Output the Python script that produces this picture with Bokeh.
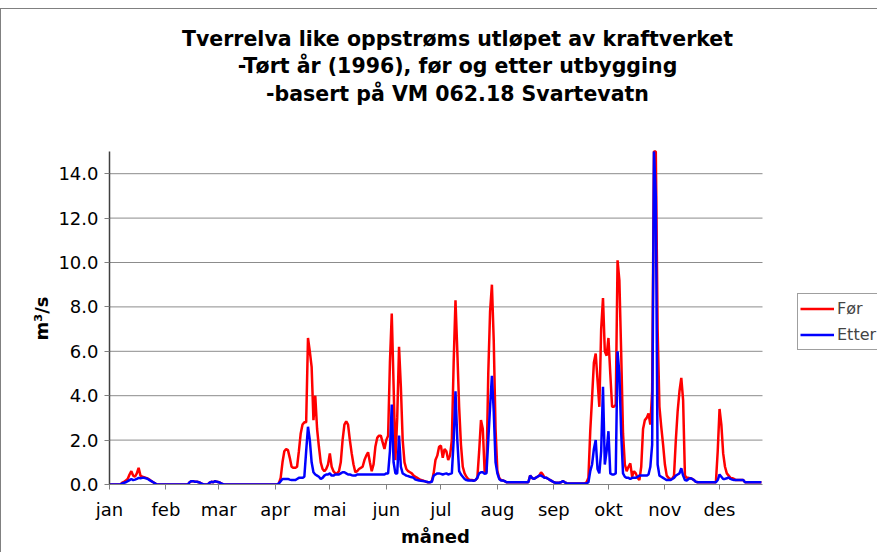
from bokeh.plotting import figure
from bokeh.models import (Range1d, FixedTicker, PrintfTickFormatter, Label, Legend, LegendItem, Title)
from bokeh.embed import file_html
from bokeh.resources import INLINE

# ---- data (daily flow, m3/s, day 0 = 1 Jan 1996) ----
title_lines = ["Tverrelva like oppstrøms utløpet av kraftverket",
               "-Tørt år (1996), før og etter utbygging",
               "-basert på VM 062.18 Svartevatn"]
x_label = "måned"
y_label = "m³/s"
month_names = ["jan", "feb", "mar", "apr", "mai", "jun", "jul", "aug", "sep", "okt", "nov", "des"]
month_start_days = [0, 31, 60, 91, 121, 152, 182, 213, 244, 274, 305, 335]
y_ticks = [0, 2, 4, 6, 8, 10, 12, 14]
y_axis_max = 15
x_axis_max = 358.6

foer = [
    0, 0, 0, 0, 0, 0, 0, 0.08, 0.12, 0.18,            # 0
    0.25, 0.45, 0.6, 0.4, 0.35, 0.5, 0.75, 0.4, 0.35, 0.33,  # 10
    0.3, 0.27, 0.22, 0.15, 0.1, 0.05, 0, 0, 0, 0,     # 20
    0, 0, 0, 0, 0, 0, 0, 0, 0, 0,                     # 30
    0, 0, 0, 0, 0.1, 0.15, 0.15, 0.12, 0.12, 0.1,     # 40
    0.07, 0.02, 0, 0, 0, 0.08, 0.12, 0.1, 0.15, 0.12, # 50
    0.1, 0.07, 0.02, 0, 0, 0, 0, 0, 0, 0,             # 60
    0, 0, 0, 0, 0, 0, 0, 0, 0, 0,                     # 70
    0, 0, 0, 0, 0, 0, 0, 0, 0, 0,                     # 80
    0, 0, 0, 0.05, 0.3, 1.0, 1.5, 1.6, 1.55, 1.2,     # 90
    0.8, 0.75, 0.75, 0.8, 1.5, 2.3, 2.7, 2.8, 2.8, 6.6,   # 100
    6.0, 5.3, 2.9, 4.0, 2.5, 1.7, 1.0, 0.7, 0.6, 0.7,     # 110
    0.9, 1.4, 0.8, 0.6, 0.5, 0.5, 0.6, 1.0, 2.0, 2.7,     # 120
    2.85, 2.7, 2.0, 1.4, 0.9, 0.55, 0.6, 0.7, 0.75, 0.8,  # 130
    1.1, 1.3, 1.45, 1.0, 0.6, 0.9, 1.7, 2.1, 2.2, 2.2,    # 140
    1.9, 1.6, 2.0, 2.2, 5.5, 7.7, 4.5, 1.1, 3.0, 6.2,     # 150
    4.4, 2.0, 1.0, 0.7, 0.6, 0.55, 0.5, 0.4, 0.35, 0.3,   # 160
    0.25, 0.2, 0.18, 0.15, 0.12, 0.1, 0.1, 0.15, 0.5, 1.1,  # 170
    1.3, 1.7, 1.75, 1.2, 1.6, 1.5, 1.1, 1.3, 2.0, 5.5,    # 180
    8.3, 6.0, 3.5, 1.8, 0.8, 0.5, 0.35, 0.25, 0.2, 0.2,   # 190
    0.18, 0.2, 0.3, 1.5, 2.9, 2.5, 0.6, 0.55, 5.0, 7.8,   # 200
    9.0, 6.5, 2.5, 0.6, 0.3, 0.2, 0.18, 0.15, 0.1, 0.1,   # 210
    0.1, 0.1, 0.1, 0.1, 0.1, 0.1, 0.1, 0.1, 0.1, 0.1,     # 220
    0.1, 0.4, 0.3, 0.25, 0.3, 0.35, 0.4, 0.55, 0.45, 0.3, # 230
    0.3, 0.25, 0.2, 0.15, 0.1, 0.08, 0.08, 0.08, 0.1, 0.15,  # 240
    0.1, 0.06, 0.05, 0.05, 0.05, 0.05, 0.05, 0.05, 0.05, 0.05,  # 250
    0.05, 0.05, 0.1, 0.3, 2.4, 3.9, 5.5, 5.9, 4.7, 3.5,   # 260
    7.0, 8.4, 6.0, 5.8, 6.6, 5.0, 3.5, 3.5, 3.6, 10.1,    # 270
    9.2, 5.9, 2.3, 0.9, 0.6, 0.8, 0.95, 0.35, 0.6, 0.5,   # 280
    0.3, 0.2, 0.8, 2.5, 2.9, 3.0, 3.2, 2.7, 4.2, 16.5,    # 290
    15.0, 7.0, 3.5, 2.6, 1.8, 0.9, 0.4, 0.3, 0.25, 0.25,  # 300
    0.4, 2.0, 3.3, 4.2, 4.8, 3.8, 0.4, 0.3, 0.3, 0.28,    # 310
    0.25, 0.2, 0.12, 0.1, 0.1, 0.1, 0.1, 0.1, 0.1, 0.1,   # 320
    0.1, 0.1, 0.1, 0.1, 1.5, 3.4, 2.7, 1.4, 0.8, 0.5,     # 330
    0.4, 0.3, 0.28, 0.25, 0.2, 0.2, 0.2, 0.2, 0.2, 0.1,   # 340
    0.1, 0.1, 0.1, 0.1, 0.1, 0.1, 0.1, 0.1, 0.1,          # 350
]

etter = [
    0, 0, 0, 0, 0, 0, 0, 0.05, 0.08, 0.1,             # 0
    0.15, 0.2, 0.25, 0.2, 0.22, 0.25, 0.3, 0.28, 0.3, 0.3,   # 10
    0.28, 0.25, 0.2, 0.15, 0.1, 0.05, 0, 0, 0, 0,     # 20
    0, 0, 0, 0, 0, 0, 0, 0, 0, 0,                     # 30
    0, 0, 0, 0, 0.1, 0.15, 0.15, 0.12, 0.12, 0.1,     # 40
    0.07, 0.02, 0, 0, 0, 0.08, 0.12, 0.1, 0.15, 0.12, # 50
    0.1, 0.07, 0.02, 0, 0, 0, 0, 0, 0, 0,             # 60
    0, 0, 0, 0, 0, 0, 0, 0, 0, 0,                     # 70
    0, 0, 0, 0, 0, 0, 0, 0, 0, 0,                     # 80
    0, 0, 0, 0.05, 0.15, 0.25, 0.25, 0.25, 0.25, 0.22,    # 90
    0.2, 0.2, 0.2, 0.25, 0.3, 0.3, 0.3, 0.35, 1.5, 2.6,   # 100
    2.0, 1.0, 0.55, 0.45, 0.4, 0.35, 0.25, 0.3, 0.4, 0.45,  # 110
    0.45, 0.5, 0.4, 0.4, 0.45, 0.45, 0.45, 0.5, 0.55, 0.55,  # 120
    0.5, 0.45, 0.45, 0.42, 0.4, 0.4, 0.45, 0.45, 0.45, 0.45,  # 130
    0.45, 0.45, 0.45, 0.45, 0.45, 0.45, 0.45, 0.45, 0.45, 0.45,  # 140
    0.45, 0.45, 0.5, 0.5, 1.5, 3.6, 1.0, 0.5, 0.5, 2.2,   # 150
    0.8, 0.5, 0.45, 0.4, 0.38, 0.35, 0.33, 0.3, 0.22, 0.2,  # 160
    0.18, 0.17, 0.16, 0.15, 0.12, 0.1, 0.1, 0.12, 0.4, 0.45,  # 170
    0.5, 0.5, 0.48, 0.45, 0.48, 0.5, 0.45, 0.48, 0.5, 2.0,  # 180
    4.2, 2.0, 0.6, 0.45, 0.35, 0.25, 0.2, 0.18, 0.18, 0.18,  # 190
    0.17, 0.2, 0.3, 0.5, 0.55, 0.55, 0.48, 0.5, 2.0, 3.5,  # 200
    4.9, 3.3, 1.0, 0.5, 0.25, 0.18, 0.18, 0.15, 0.1, 0.1,  # 210
    0.1, 0.1, 0.1, 0.1, 0.1, 0.1, 0.1, 0.1, 0.1, 0.1,     # 220
    0.1, 0.4, 0.3, 0.25, 0.3, 0.35, 0.4, 0.4, 0.35, 0.3,  # 230
    0.3, 0.25, 0.2, 0.15, 0.1, 0.08, 0.08, 0.08, 0.1, 0.15,  # 240
    0.1, 0.06, 0.05, 0.05, 0.05, 0.05, 0.05, 0.05, 0.05, 0.05,  # 250
    0.05, 0.05, 0.05, 0.1, 0.6, 0.9, 1.6, 2.0, 0.7, 0.5,  # 260
    1.5, 4.4, 0.9, 1.5, 2.4, 0.5, 0.45, 0.45, 0.5, 6.0,   # 270
    5.0, 2.3, 0.5, 0.35, 0.3, 0.3, 0.25, 0.3, 0.3, 0.3,   # 280
    0.35, 0.4, 0.4, 0.4, 0.4, 0.4, 0.45, 0.8, 1.8, 16.0,  # 290
    13.0, 0.9, 0.4, 0.35, 0.3, 0.25, 0.2, 0.2, 0.2, 0.25, # 300
    0.3, 0.4, 0.45, 0.5, 0.73, 0.4, 0.2, 0.18, 0.25, 0.28,  # 310
    0.25, 0.2, 0.12, 0.1, 0.1, 0.1, 0.1, 0.1, 0.1, 0.1,   # 320
    0.1, 0.1, 0.1, 0.1, 0.2, 0.45, 0.35, 0.25, 0.25, 0.28,  # 330
    0.32, 0.25, 0.22, 0.2, 0.2, 0.2, 0.2, 0.2, 0.2, 0.1,  # 340
    0.1, 0.1, 0.1, 0.1, 0.1, 0.1, 0.1, 0.1, 0.1,          # 350
]

days = list(range(len(foer)))
# the value axis stops at 15 (like the original): values above it are cut at the top
foer_shown = [min(v, y_axis_max) for v in foer]
etter_shown = [min(v, y_axis_max) for v in etter]

FONT = "DejaVu Sans"

# layout: plot frame spans the whole canvas right of the y axis and above the x axis,
# so the title and legend (annotations) are not clipped; axes are bounded to the data area.
W, H = 877, 552
LEFT, BOTTOM_Y = 109, 484          # frame left edge / x-axis position (px)
PX_PER_DAY = 1.821
PX_PER_UNIT = 22.2
x_end = (W - LEFT) / PX_PER_DAY
y_end = BOTTOM_Y / PX_PER_UNIT

p = figure(width=W, height=H, output_backend="svg", toolbar_location=None,
           x_range=Range1d(0, x_end), y_range=Range1d(0, y_end),
           min_border_left=LEFT, min_border_right=0, min_border_top=0,
           min_border_bottom=H - BOTTOM_Y)
p.outline_line_color = None
p.background_fill_alpha = 0
p.border_fill_alpha = 0
p.styles = {"background": "linear-gradient(#808080, #808080) no-repeat 0 8px / 100% 1px, "
                          "linear-gradient(#808080, #808080) no-repeat 0 8px / 1px 100%, white"}

# gridlines (only across the plot area, up to the axis maximum)
p.xgrid.visible = False
p.ygrid.visible = False
p.segment(x0=[0] * len(y_ticks[1:]), x1=[x_axis_max] * len(y_ticks[1:]),
          y0=y_ticks[1:], y1=y_ticks[1:], line_color="#8c8c8c", line_width=1)

r_foer = p.line(days, foer_shown, line_color="#FF0000", line_width=2.5)
r_etter = p.line(days, etter_shown, line_color="#0000FF", line_width=2.5)

p.yaxis.bounds = (0, y_axis_max)
p.yaxis.ticker = FixedTicker(ticks=y_ticks)
p.yaxis.formatter = PrintfTickFormatter(format="%.1f")
p.yaxis.axis_line_color = "#404040"
p.yaxis.axis_line_width = 1.5
p.yaxis.minor_tick_line_color = None
p.yaxis.major_tick_out = 5
p.yaxis.major_tick_in = 0
p.yaxis.major_tick_line_color = "#808080"
p.yaxis.major_label_text_font = FONT
p.yaxis.major_label_text_font_size = "18px"
p.yaxis.major_label_text_color = "black"
p.yaxis.major_label_standoff = 6

p.xaxis.bounds = (0, x_axis_max)
p.xaxis.ticker = FixedTicker(ticks=month_start_days)
p.xaxis.major_label_overrides = {d: m for d, m in zip(month_start_days, month_names)}
p.xaxis.axis_line_color = "#808080"
p.xaxis.minor_tick_line_color = None
p.xaxis.major_tick_out = 5
p.xaxis.major_tick_in = 0
p.xaxis.major_tick_line_color = "#808080"
p.xaxis.major_label_text_font = FONT
p.xaxis.major_label_text_font_size = "18px"
p.xaxis.major_label_text_color = "black"
p.xaxis.major_label_standoff = 9

# axis titles, centred on the data area (not on the wider frame)
LABEL_FS = 18
x_label_w = 3.823 * LABEL_FS          # approx. text width of "måned" (DejaVu Sans Bold)
y_label_w = 2.44 * LABEL_FS           # approx. text width of "m³/s"
p.add_layout(Title(text=x_label, align="left", vertical_align="top",
                   offset=435 - LEFT - x_label_w / 2, standoff=6,
                   text_font=FONT, text_font_style="bold", text_font_size=f"{LABEL_FS}px",
                   text_color="black"), "below")
p.add_layout(Title(text=y_label, align="left", vertical_align="bottom",
                   offset=BOTTOM_Y - 318 - y_label_w / 2, standoff=8,
                   text_font=FONT, text_font_style="bold", text_font_size=f"{LABEL_FS}px",
                   text_color="black"), "left")

# chart title: three centred lines
TITLE_CX = 457 - LEFT
for i, line in enumerate(title_lines):
    p.add_layout(Label(x=TITLE_CX, y=BOTTOM_Y - 38 - i * 27.5, x_units="screen", y_units="screen",
                       text=line, text_align="center", text_baseline="middle",
                       text_font=FONT, text_font_style="bold", text_font_size="20.5px",
                       text_color="black"))

legend = Legend(items=[LegendItem(label="Før", renderers=[r_foer]),
                       LegendItem(label="Etter", renderers=[r_etter])],
                location=(797 - LEFT, BOTTOM_Y - 350), orientation="vertical",
                glyph_width=34, glyph_height=25, label_height=25, label_standoff=3,
                padding=2, spacing=1, margin=0,
                label_text_font=FONT, label_text_font_size="16px",
                border_line_color="#404040", border_line_width=1,
                background_fill_color="white", background_fill_alpha=1)
p.add_layout(legend, "center")

open("out.html", "w").write(file_html(p, INLINE))
